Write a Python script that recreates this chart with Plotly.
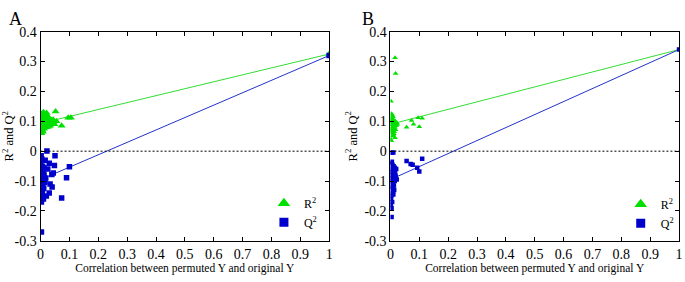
import plotly.graph_objects as go

# ---------------- data ----------------
# Panel A: permuted R2 (triangles)
A_r2_x = [0.001, 0.002, 0.003, 0.004, 0.005, 0.006, 0.007, 0.008, 0.009, 0.010,
          0.011, 0.012, 0.013, 0.014, 0.015, 0.016, 0.018, 0.020, 0.022, 0.024,
          0.026, 0.028, 0.030, 0.033, 0.036, 0.040, 0.044, 0.048, 0.052, 0.055,
          0.073, 0.096, 0.105, 0.003, 0.005, 0.008, 0.011, 0.014, 0.017, 0.021,
          0.025, 0.031, 0.038, 0.002, 0.006, 0.019, 0.027, 0.045]
A_r2_y = [0.085, 0.105, 0.070, 0.125, 0.095, 0.080, 0.115, 0.065, 0.100, 0.130,
          0.090, 0.075, 0.110, 0.095, 0.085, 0.120, 0.100, 0.080, 0.105, 0.090,
          0.115, 0.095, 0.110, 0.085, 0.100, 0.095, 0.105, 0.090, 0.133, 0.100,
          0.085, 0.112, 0.112, 0.060, 0.118, 0.092, 0.078, 0.102, 0.088, 0.128,
          0.098, 0.088, 0.104, 0.110, 0.070, 0.095, 0.082, 0.098]
# Panel A: permuted Q2 (squares)
A_q2_x = [0.002, 0.016, 0.050, 0.022, 0.100, 0.030, 0.039, 0.044, 0.010, 0.018,
          0.090, 0.033, 0.040, 0.073, 0.006, 0.010, 0.003, 0.003, 0.020, 0.030,
          0.001, 0.004, 0.007, 0.012, 0.002, 0.005, 0.008, 0.014, 0.001, 0.006,
          0.009, 0.025, 0.003, 0.011, 0.015, 0.004, 0.008, 0.002, 0.012, 0.048]
A_q2_y = [-0.015, -0.030, -0.015, 0.001, -0.052, -0.040, -0.078, -0.073, -0.070, -0.090,
          -0.089, -0.110, -0.120, -0.157, -0.140, -0.160, -0.170, -0.270, -0.150, -0.140,
          -0.040, -0.060, -0.050, -0.080, -0.100, -0.110, -0.095, -0.105, -0.120, -0.130,
          -0.065, -0.060, -0.085, -0.125, -0.100, -0.025, -0.115, -0.145, -0.055, -0.048]
# Panel B: permuted R2 (triangles)
B_r2_x = [0.016, 0.018, 0.002, 0.056, 0.073, 0.080, 0.096, 0.100, 0.110,
          0.001, 0.002, 0.003, 0.004, 0.005, 0.006, 0.007, 0.008, 0.009, 0.010,
          0.011, 0.012, 0.013, 0.014, 0.015, 0.017, 0.019, 0.020, 0.022, 0.024,
          0.001, 0.003, 0.005, 0.007, 0.009, 0.011, 0.013, 0.016, 0.021, 0.002,
          0.004, 0.006, 0.008, 0.012, 0.018]
B_r2_y = [0.313, 0.260, 0.167, 0.080, 0.103, 0.090, 0.112, 0.082, 0.110,
          0.040, 0.095, 0.060, 0.125, 0.075, 0.105, 0.050, 0.090, 0.115, 0.070,
          0.100, 0.085, 0.065, 0.095, 0.080, 0.100, 0.090, 0.085, 0.095, 0.090,
          0.110, 0.035, 0.088, 0.120, 0.055, 0.078, 0.102, 0.045, 0.092, 0.068,
          0.098, 0.082, 0.108, 0.058, 0.072]
# Panel B: permuted Q2 (squares)
B_q2_x = [0.056, 0.070, 0.077, 0.093, 0.100, 0.110, 0.004, 0.010, 0.005,
          0.001, 0.002, 0.003, 0.004, 0.005, 0.006, 0.007, 0.008, 0.009, 0.010,
          0.011, 0.012, 0.013, 0.014, 0.015, 0.016, 0.018, 0.020, 0.022, 0.002,
          0.003, 0.005, 0.006, 0.008, 0.010, 0.012, 0.015, 0.001, 0.004, 0.007,
          0.009, 0.017, 0.003]
B_q2_y = [-0.033, -0.043, -0.045, -0.055, -0.068, -0.025, -0.220, -0.004, -0.005,
          -0.180, -0.040, -0.150, -0.060, -0.120, -0.080, -0.140, -0.095, -0.070, -0.110,
          -0.050, -0.090, -0.130, -0.075, -0.100, -0.065, -0.085, -0.060, -0.095, -0.160,
          -0.105, -0.035, -0.170, -0.125, -0.145, -0.115, -0.055, -0.090, -0.190, -0.045,
          -0.135, -0.080, -0.070]

# original-model values (at correlation 1) and regression intercepts (at 0)
line_x = [0, 1]
A_r2_line = [0.093, 0.325]
A_q2_line = [-0.095, 0.32]
B_r2_line = [0.090, 0.340]
B_q2_line = [-0.095, 0.340]

x_ticks = [0, 0.1, 0.2, 0.3, 0.4, 0.5, 0.6, 0.7, 0.8, 0.9, 1]
x_tick_text = ["0", "0.1", "0.2", "0.3", "0.4", "0.5", "0.6", "0.7", "0.8", "0.9", "1"]
y_ticks = [-0.3, -0.2, -0.1, 0, 0.1, 0.2, 0.3, 0.4]
y_tick_text = ["-0.3", "-0.2", "-0.1", "0", "0.1", "0.2", "0.3", "0.4"]

GREEN = "#00e000"
BLUE = "#0000cc"
GREEN_LINE = "#33dd33"
BLUE_LINE = "#2233cc"
FONT = "Liberation Serif"

fig = go.Figure()

panels = [
    ("x", "y", A_r2_x, A_r2_y, A_q2_x, A_q2_y, A_r2_line, A_q2_line, "legend", 7, 5.5),
    ("x2", "y2", B_r2_x, B_r2_y, B_q2_x, B_q2_y, B_r2_line, B_q2_line, "legend2", 5, 4.5),
]
for xa, ya, rx, ry, qx, qy, rl, ql, lg, tsize, ssize in panels:
    fig.add_trace(go.Scatter(x=line_x, y=rl, mode="lines", xaxis=xa, yaxis=ya,
                             line=dict(color=GREEN_LINE, width=1), showlegend=False))
    fig.add_trace(go.Scatter(x=line_x, y=ql, mode="lines", xaxis=xa, yaxis=ya,
                             line=dict(color=BLUE_LINE, width=1), showlegend=False))
    fig.add_trace(go.Scatter(x=rx + [1], y=ry + [rl[1]], mode="markers", xaxis=xa, yaxis=ya,
                             marker=dict(symbol="triangle-up", color=GREEN, size=tsize),
                             showlegend=False))
    fig.add_trace(go.Scatter(x=qx + [1], y=qy + [ql[1]], mode="markers", xaxis=xa, yaxis=ya,
                             marker=dict(symbol="square", color=BLUE, size=ssize),
                             showlegend=False))
    # legend entries
    fig.add_trace(go.Scatter(x=[None], y=[None], mode="markers", xaxis=xa, yaxis=ya,
                             marker=dict(symbol="triangle-up", color=GREEN, size=11),
                             name="R<sup>2</sup>", legend=lg))
    fig.add_trace(go.Scatter(x=[None], y=[None], mode="markers", xaxis=xa, yaxis=ya,
                             marker=dict(symbol="square", color=BLUE, size=9),
                             name="Q<sup>2</sup>", legend=lg))

axis_common = dict(showline=True, linecolor="black", linewidth=1, mirror="ticks",
                   ticks="inside", ticklen=4, tickcolor="black", showgrid=False,
                   zeroline=False, tickfont=dict(family=FONT, size=14, color="black"))

XTITLE = "Correlation between permuted Y and original Y"
YTITLE = "R<sup>2</sup> and Q<sup>2</sup>"
y_dom = [35 / 282, 256 / 282]
fig.update_layout(
    width=685, height=282,
    margin=dict(l=0, r=0, t=0, b=0),
    paper_bgcolor="white", plot_bgcolor="white",
    font=dict(family=FONT, size=13, color="black"),
    xaxis=dict(domain=[37 / 685, 329 / 685], range=[0, 1], tickvals=x_ticks,
               ticktext=x_tick_text, anchor="y",
               title=dict(text=XTITLE, font=dict(family=FONT, size=11.5), standoff=3),
               **axis_common),
    yaxis=dict(domain=y_dom, range=[-0.3, 0.4], tickvals=y_ticks, ticktext=y_tick_text,
               anchor="x",
               title=dict(text=YTITLE, font=dict(family=FONT, size=12.5), standoff=4),
               **axis_common),
    xaxis2=dict(domain=[391 / 685, 683 / 685], range=[0, 1], tickvals=x_ticks,
                ticktext=x_tick_text, anchor="y2",
                title=dict(text=XTITLE, font=dict(family=FONT, size=11.5), standoff=3),
                **axis_common),
    yaxis2=dict(domain=y_dom, range=[-0.3, 0.4], tickvals=y_ticks, ticktext=y_tick_text,
                anchor="x2",
                title=dict(text=YTITLE, font=dict(family=FONT, size=12.5), standoff=4),
                **axis_common),
    legend=dict(x=263 / 685, y=1 - 192 / 282, xanchor="left", yanchor="top",
                bgcolor="rgba(0,0,0,0)", itemwidth=30,
                font=dict(family=FONT, size=12), tracegroupgap=0),
    legend2=dict(x=624 / 685, y=1 - 193 / 282, xanchor="left", yanchor="top",
                 bgcolor="rgba(0,0,0,0)", itemwidth=30,
                 font=dict(family=FONT, size=12), tracegroupgap=0),
    shapes=[
        dict(type="line", xref="x domain", yref="y", x0=0, x1=1, y0=0, y1=0,
             line=dict(color="black", width=1, dash="2px,2px")),
        dict(type="line", xref="x2 domain", yref="y2", x0=0, x1=1, y0=0, y1=0,
             line=dict(color="black", width=1, dash="2px,2px")),
    ],
    annotations=[
        dict(text="A", xref="paper", yref="paper", x=3 / 685, y=1,
             xanchor="left", yanchor="top", showarrow=False,
             font=dict(family=FONT, size=18)),
        dict(text="B", xref="paper", yref="paper", x=360 / 685, y=1,
             xanchor="left", yanchor="top", showarrow=False,
             font=dict(family=FONT, size=18)),
    ],
)

fig.write_html("out.html", config={"displayModeBar": False},
               post_script="document.body.style.margin='0';document.body.style.padding='0';")
